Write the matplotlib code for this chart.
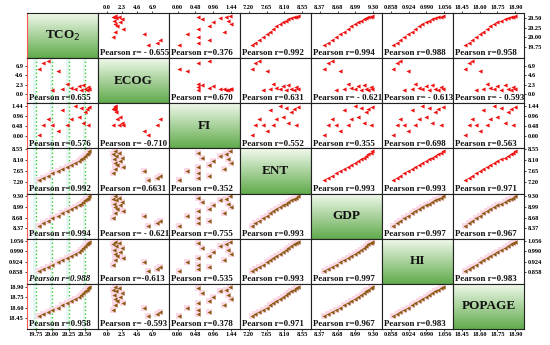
import numpy as np
import matplotlib
matplotlib.use("Agg")
import matplotlib.pyplot as plt

# variable names (diagonal labels)
names = ["TCO$_2$", "ECOG", "FI", "ENT", "GDP", "HI", "POPAGE"]

# values (one point per year)
tco2 = [19.80, 19.86, 19.93, 20.00, 20.08, 20.15, 20.22, 20.29, 20.35, 20.40, 20.44, 20.47, 20.50, 20.52, 20.54, 20.56]
ecog = [6.2, 7.6, 8.1, 1.0, 5.6, 1.3, 2.4, 1.5, 1.2, 2.0, 1.1, 2.3, 1.4, 1.0, 1.8, 1.2]
fi = [0.05, 0.55, 0.85, 0.55, 0.25, 1.25, 0.55, 0.85, 1.45, 0.95, 1.35, 0.65, 1.15, 1.30, 0.55, 1.40]
ent = [7.28, 7.36, 7.45, 7.56, 7.66, 7.74, 7.82, 7.90, 7.98, 8.06, 8.13, 8.20, 8.27, 8.33, 8.39, 8.45]
gdp = [8.45, 8.52, 8.59, 8.66, 8.73, 8.80, 8.86, 8.92, 8.98, 9.03, 9.08, 9.13, 9.17, 9.21, 9.25, 9.28]
hi = [0.868, 0.880, 0.893, 0.907, 0.921, 0.935, 0.949, 0.962, 0.975, 0.988, 1.000, 1.012, 1.023, 1.033, 1.042, 1.050]
popage = [18.48, 18.51, 18.54, 18.57, 18.60, 18.63, 18.66, 18.69, 18.72, 18.75, 18.78, 18.81, 18.84, 18.86, 18.88, 18.90]
data = [tco2, ecog, fi, ent, gdp, hi, popage]

# axis ticks per variable
ticks = [[19.75, 20.00, 20.25, 20.50],
         [0.0, 2.3, 4.6, 6.9],
         [0.00, 0.48, 0.96, 1.44],
         [7.20, 7.65, 8.10, 8.55],
         [8.37, 8.68, 8.99, 9.30],
         [0.858, 0.924, 0.990, 1.056],
         [18.45, 18.60, 18.75, 18.90]]
tick_fmt = ["%.2f", "%.1f", "%.2f", "%.2f", "%.2f", "%.3f", "%.2f"]

# pearson labels as printed in the cells
pearson = [
    [None, "Pearson r= - 0.655", "Pearson r=0.376", "Pearson r=0.992", "Pearson r=0.994", "Pearson r=0.988", "Pearson r=0.958"],
    ["Pearson r=0.655", None, "Pearson r=0.670", "Pearson r=0.631", "Pearson r= - 0.621", "Pearson r= - 0.613", "Pearson r= - 0.593"],
    ["Pearson r=0.576", "Pearson r= -0.710", None, "Pearson r=0.552", "Pearson r=0.355", "Pearson r=0.698", "Pearson r=0.563"],
    ["Pearson r=0.992", "Pearson r=0.6631", "Pearson r=0.352", None, "Pearson r=0.993", "Pearson r=0.993", "Pearson r=0.971"],
    ["Pearson r=0.994", "Pearson r= - 0.621", "Pearson r=0.755", "Pearson r=0.993", None, "Pearson r=0.997", "Pearson r=0.967"],
    ["Pearson r=0.988", "Pearson r=-0.613", "Pearson r=0.535", "Pearson r=0.993", "Pearson r=0.997", None, "Pearson r=0.983"],
    ["Pearson r=0.958", "Pearson r= -0.593", "Pearson r=0.378", "Pearson r=0.971", "Pearson r=0.967", "Pearson r=0.983", None],
]

plt.rcParams['font.family'] = ['Liberation Serif', 'DejaVu Serif']

n = len(names)
fig, axes = plt.subplots(n, n, figsize=(5.5, 3.45), dpi=100,
                         gridspec_kw=dict(wspace=0, hspace=0))
fig.subplots_adjust(left=27/550, right=524/550, top=1-13/345, bottom=1-329/345)

# vertical green gradient for the diagonal boxes
grad = np.linspace(0, 1, 64).reshape(-1, 1)
top_c = np.array([0.95, 0.98, 0.93])
bot_c = np.array([0.38, 0.67, 0.30])
grad_img = top_c + (bot_c - top_c) * grad[:, :, None]

red = "#ee1111"
brown = "#8a5a12"
pink = "#fcd9e6"


def xlims(v, t):
    lo, hi_ = min(min(v), t[0]), max(max(v), t[-1])
    s = hi_ - lo
    return lo - 0.16 * s, hi_ + 0.16 * s


def ylims(v):
    lo, hi_ = min(v), max(v)
    s = hi_ - lo
    return lo - 0.45 * s, hi_ + 0.10 * s


for i in range(n):
    for j in range(n):
        ax = axes[i, j]
        for s in ax.spines.values():
            s.set_color("#222222")
            s.set_linewidth(0.8)
        if i == j:
            ax.imshow(grad_img, extent=[0, 1, 0, 1], aspect='auto',
                      transform=ax.transAxes, zorder=0)
            ax.text(0.5, 0.5, names[i], transform=ax.transAxes, ha='center',
                    va='center', fontsize=9.5, fontweight='bold', color='#111111')
        else:
            if j == 0:
                for t in ticks[0]:
                    ax.axvspan(t - 0.035, t, color='#e6f7f3', zorder=0, lw=0)
                    ax.axvline(t, color='#33cc33', ls=':', lw=1.0, zorder=1)
            lower = i > j and i >= 3
            dark = lower or i >= 4
            if dark:
                ax.plot(data[j], data[i], 's', ms=5, color=pink, mew=0, zorder=1)
            ax.plot(data[j], data[i], '<', ms=3, color=brown if dark else red,
                    mew=0, zorder=2)
            ax.text(0.03, 0.02, pearson[i][j], transform=ax.transAxes, ha='left',
                    va='bottom', fontsize=6.4, fontweight='bold', color='#111111',
                    fontstyle='italic' if (i == 5 and j == 0) else 'normal', zorder=3)

        # ticks only on the outer frame
        ax.tick_params(labelsize=4.6, length=1.5, width=0.5, pad=1)
        ax.set_xticks(ticks[j])
        ax.set_yticks(ticks[i])
        ax.set_xticklabels([tick_fmt[j] % v for v in ticks[j]], fontweight='bold')
        ax.set_yticklabels([tick_fmt[i] % v for v in ticks[i]], fontweight='bold')
        ax.set_xlim(xlims(data[j], ticks[j]))
        ax.set_ylim(ylims(data[i]))
        ax.tick_params(top=(i == 0 and j > 0), labeltop=(i == 0 and j > 0),
                       bottom=(i == n - 1), labelbottom=(i == n - 1),
                       left=(j == 0 and i > 0), labelleft=(j == 0 and i > 0),
                       right=(j == n - 1 and i < n - 1), labelright=(j == n - 1 and i < n - 1))

# red line down the left side of the matrix
for i in range(n):
    axes[i, 0].spines['left'].set_color('#ff5555')

fig.savefig("out.png", dpi=100, facecolor='white')
